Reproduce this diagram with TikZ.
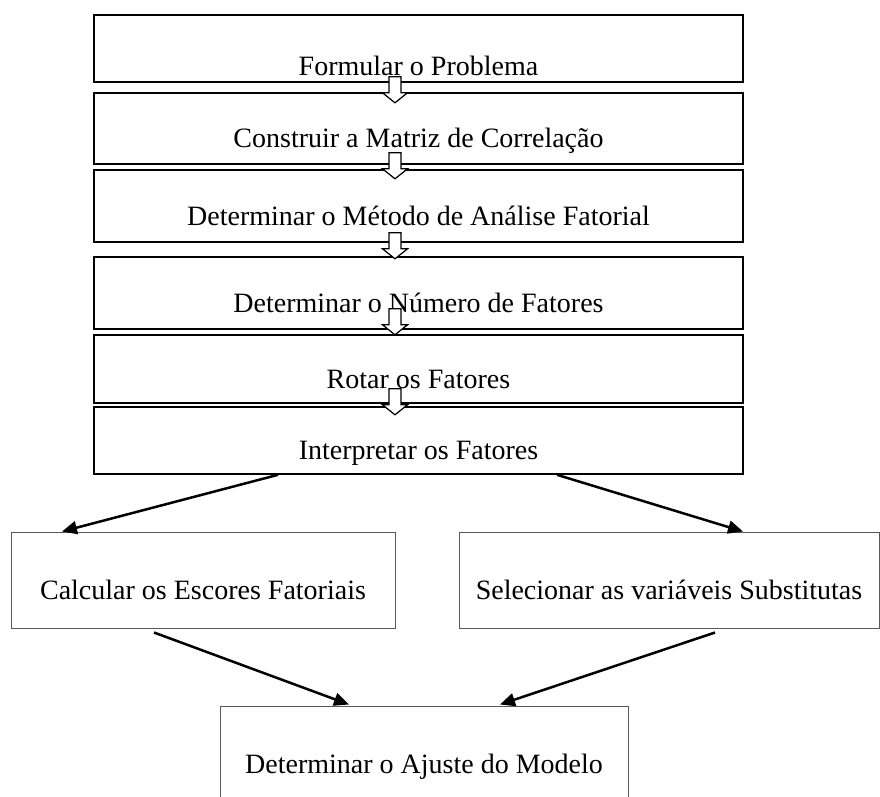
\documentclass[tikz,border=0pt]{standalone}
\usepackage{fontspec}
\setmainfont{Liberation Serif}
\usetikzlibrary{arrows.meta}

\tikzset{
  stage/.style = {draw, line width=1.6pt, minimum width=649pt, inner sep=0pt,
    text height=38pt, text depth=0pt, font=\fontsize{28}{32}\selectfont},
  result/.style = {draw=black!65, line width=1pt, minimum height=96pt, inner sep=0pt,
    text height=38pt, text depth=0pt, font=\fontsize{28}{32}\selectfont},
  flow/.style = {line width=2.5pt, -{Triangle[length=15pt,width=13pt]}},
  blockdown/.pic = {
    \draw[fill=white, line width=1.2pt] (-6,0) -- (-6,16) -- (-12.5,16) -- (0,26)
      -- (12.5,16) -- (6,16) -- (6,0) -- cycle;
  }
}

\begin{document}
\begin{tikzpicture}[x=1pt, y=-1pt]
  \clip (0,0) rectangle (880,796);
  % steps of the factor analysis
  \node [stage, minimum height=67pt, text height=53pt] (formular) at (418.5,48.5) {Formular o Problema};
  \node [stage, minimum height=71pt] (matriz) at (418.5,128.5) {Construir a Matriz de Correlação};
  \node [stage, minimum height=72pt] (metodo) at (418.5,206) {Determinar o Método de Análise Fatorial};
  \node [stage, minimum height=72pt] (numero) at (418.5,293) {Determinar o Número de Fatores};
  \node [stage, minimum height=68pt] (rotar) at (418.5,369) {Rotar os Fatores};
  \node [stage, minimum height=67pt] (interp) at (418.5,440.5) {Interpretar os Fatores};

  \pic at ([xshift=-23.5pt, yshift=6pt]formular.south) {blockdown};
  \pic at ([xshift=-23.5pt, yshift=12pt]matriz.south) {blockdown};
  \pic at ([xshift=-23.5pt, yshift=10pt]metodo.south) {blockdown};
  \pic at ([xshift=-23.5pt, yshift=21pt]numero.south) {blockdown};
  \pic at ([xshift=-23.5pt, yshift=15pt]rotar.south) {blockdown};

  % two ways after the interpretation
  \node [result, minimum width=384pt] (escores) at (203,580) {Calcular os Escores Fatoriais};
  \node [result, minimum width=420pt] (substitutas) at (669,580) {Selecionar as variáveis Substitutas};
  \node [result, minimum width=408pt] (ajuste) at (424,754) {Determinar o Ajuste do Modelo};

  \draw [flow] ([xshift=-140.5pt]interp.south) -- ([xshift=-141pt]escores.north);
  \draw [flow] ([xshift=138.5pt]interp.south) -- ([xshift=74pt]substitutas.north);
  \draw [flow] ([xshift=-49pt, yshift=-4pt]escores.south) -- ([xshift=-75pt, yshift=1pt]ajuste.north);
  \draw [flow] ([xshift=46pt, yshift=-4pt]substitutas.south) -- ([xshift=76pt, yshift=1pt]ajuste.north);
\end{tikzpicture}
\end{document}
